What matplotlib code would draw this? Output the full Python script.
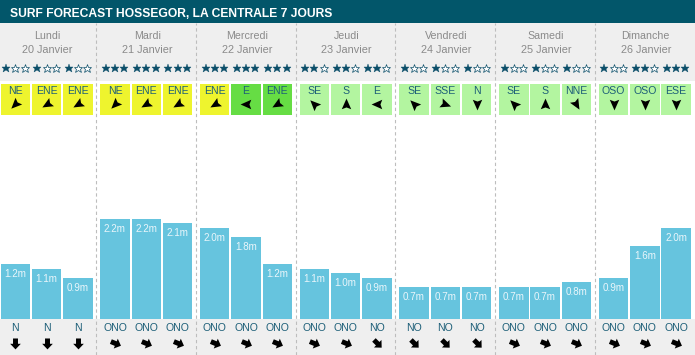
import matplotlib
matplotlib.use("Agg")
import matplotlib.pyplot as plt
from matplotlib.path import Path
from matplotlib.markers import MarkerStyle
from matplotlib.transforms import Affine2D

plt.rcParams['font.family'] = ['Liberation Sans', 'DejaVu Sans']

# ---------------- data ----------------
title = "SURF FORECAST HOSSEGOR, LA CENTRALE 7 JOURS"
day_names = ["Lundi", "Mardi", "Mercredi", "Jeudi", "Vendredi", "Samedi", "Dimanche"]
day_dates = ["20 Janvier", "21 Janvier", "22 Janvier", "23 Janvier",
             "24 Janvier", "25 Janvier", "26 Janvier"]
stars = [1, 1, 1, 3, 3, 3, 3, 3, 3, 2, 2, 2, 1, 1, 1, 1, 1, 1, 1, 2, 3]
wind_dir = ["NE", "ENE", "ENE", "NE", "ENE", "ENE", "ENE", "E", "ENE",
            "SE", "S", "E", "SE", "SSE", "N", "SE", "S", "NNE", "OSO", "OSO", "ESE"]
wind_arrow_heading = [225, 240, 240, 225, 240, 240, 240, 270, 240,
                      315, 0, 270, 315, 110, 180, 315, 0, 150, 180, 180, 180]
wind_quality = ["cross", "cross", "cross", "cross", "cross", "cross", "cross", "off", "off",
                "on", "on", "on", "on", "on", "on", "on", "on", "on", "on", "on", "on"]
wave_height = [1.2, 1.1, 0.9, 2.2, 2.2, 2.1, 2.0, 1.8, 1.2, 1.1, 1.0, 0.9,
               0.7, 0.7, 0.7, 0.7, 0.7, 0.8, 0.9, 1.6, 2.0]
swell_dir = ["N", "N", "N", "ONO", "ONO", "ONO", "ONO", "ONO", "ONO",
             "ONO", "ONO", "NO", "NO", "NO", "NO", "ONO", "ONO", "ONO", "ONO", "ONO", "ONO"]
compass = {"N": 0, "NNE": 22.5, "NE": 45, "ENE": 67.5, "E": 90, "ESE": 112.5, "SE": 135,
           "SSE": 157.5, "S": 180, "SSO": 202.5, "SO": 225, "OSO": 247.5, "O": 270,
           "ONO": 292.5, "NO": 315, "NNO": 337.5}

# ---------------- style ----------------
HDR = "#02566a"
GRAY = "#efefef"
BAR = "#66c4de"
TEAL = "#1d5f78"
STAR = "#0c4f6a"
QCOL = {"cross": "#eef42e", "off": "#66dd44", "on": "#b3f5a0"}

W, H = 695, 355
DAY = 99.7
PXM = 45.4
BASE = 318.7


def Y(p):
    return (BASE - p) / PXM


fig = plt.figure(figsize=(W / 100, H / 100), dpi=100)
ax = fig.add_axes([0, 0, 1, 1])
ax.set_xlim(0, W)
ax.set_ylim(Y(H), Y(0))
ax.axis('off')

# bands
ax.axhspan(Y(23), Y(0), color=HDR, zorder=0, lw=0)
ax.axhspan(Y(81), Y(23), color=GRAY, zorder=0, lw=0)
ax.axhspan(Y(H), 0, color=GRAY, zorder=0, lw=0)

ax.text(10, Y(16.9), title, color="white", fontweight="bold", fontsize=8.75,
        va="baseline", ha="left")

n = len(wave_height)
xs = [(i // 3) * DAY + 15.3 + 31.3 * (i % 3) for i in range(n)]

# separators
sep_x = [d * DAY + 96.2 for d in range(len(day_names) - 1)]
ax.vlines(sep_x, Y(H), Y(23), colors="#bdbdbd", linestyles=(0, (3, 2.5)), lw=0.8, zorder=1)

# day labels
for d, (nm, dt) in enumerate(zip(day_names, day_dates)):
    cx = d * DAY + 47.5
    ax.text(cx, Y(39.3), nm, ha="center", va="baseline", color="#8a8a8a", fontsize=7.7)
    ax.text(cx, Y(52.9), dt, ha="center", va="baseline", color="#8a8a8a", fontsize=7.8)

# stars
for x, s in zip(xs, stars):
    for k in range(3):
        sx = x + (k - 1) * 9.2
        if k < s:
            ax.plot(sx, Y(67.5), marker="*", ms=6.4, color=STAR, mec=STAR, mew=0.3, zorder=3)
        else:
            ax.plot(sx, Y(67.5), marker="*", ms=6.4, mfc="white", mec=STAR, mew=0.5, zorder=3)

# wind boxes
ax.bar(xs, Y(84) - Y(115), bottom=Y(115), width=29.5,
       color=[QCOL[q] for q in wind_quality], zorder=2, lw=0)

head = Path([(0, 1), (0.8, -0.8), (0, -0.5), (-0.8, -0.8), (0, 1)],
            [Path.MOVETO, Path.LINETO, Path.LINETO, Path.LINETO, Path.CLOSEPOLY])
block = Path([(0, 1), (0.9, 0.05), (0.42, 0.05), (0.42, -0.85), (-0.42, -0.85),
              (-0.42, 0.05), (-0.9, 0.05), (0, 1)],
             [Path.MOVETO] + [Path.LINETO] * 6 + [Path.CLOSEPOLY])

for x, wd, hd in zip(xs, wind_dir, wind_arrow_heading):
    ax.text(x, Y(94.3), wd, ha="center", va="baseline", color=TEAL, fontsize=7.6, zorder=4)
    m = MarkerStyle(head, transform=Affine2D().rotate_deg(-hd))
    ax.plot(x, Y(103.5), marker=m, ms=8.5, color="black", mec="black", mew=0, zorder=4)

# wave bars
ax.bar(xs, wave_height, width=29.5, color=BAR, zorder=2, lw=0)
for x, h in zip(xs, wave_height):
    ax.annotate(f"{h:.1f}m", (x, h), xytext=(0, -9.3), textcoords="offset points",
                ha="center", va="baseline", color="#eaf6fb", fontsize=7.1, zorder=4)

# swell
for x, sd in zip(xs, swell_dir):
    ax.text(x, Y(330.7), sd, ha="center", va="baseline", color=TEAL, fontsize=7.6, zorder=4)
    hd = (compass[sd] + 180) % 360
    m = MarkerStyle(block, transform=Affine2D().rotate_deg(-hd))
    ax.plot(x, Y(342.5), marker=m, ms=8.5, color="black", mec="black", mew=0, zorder=4)

fig.savefig("out.png", dpi=100)
